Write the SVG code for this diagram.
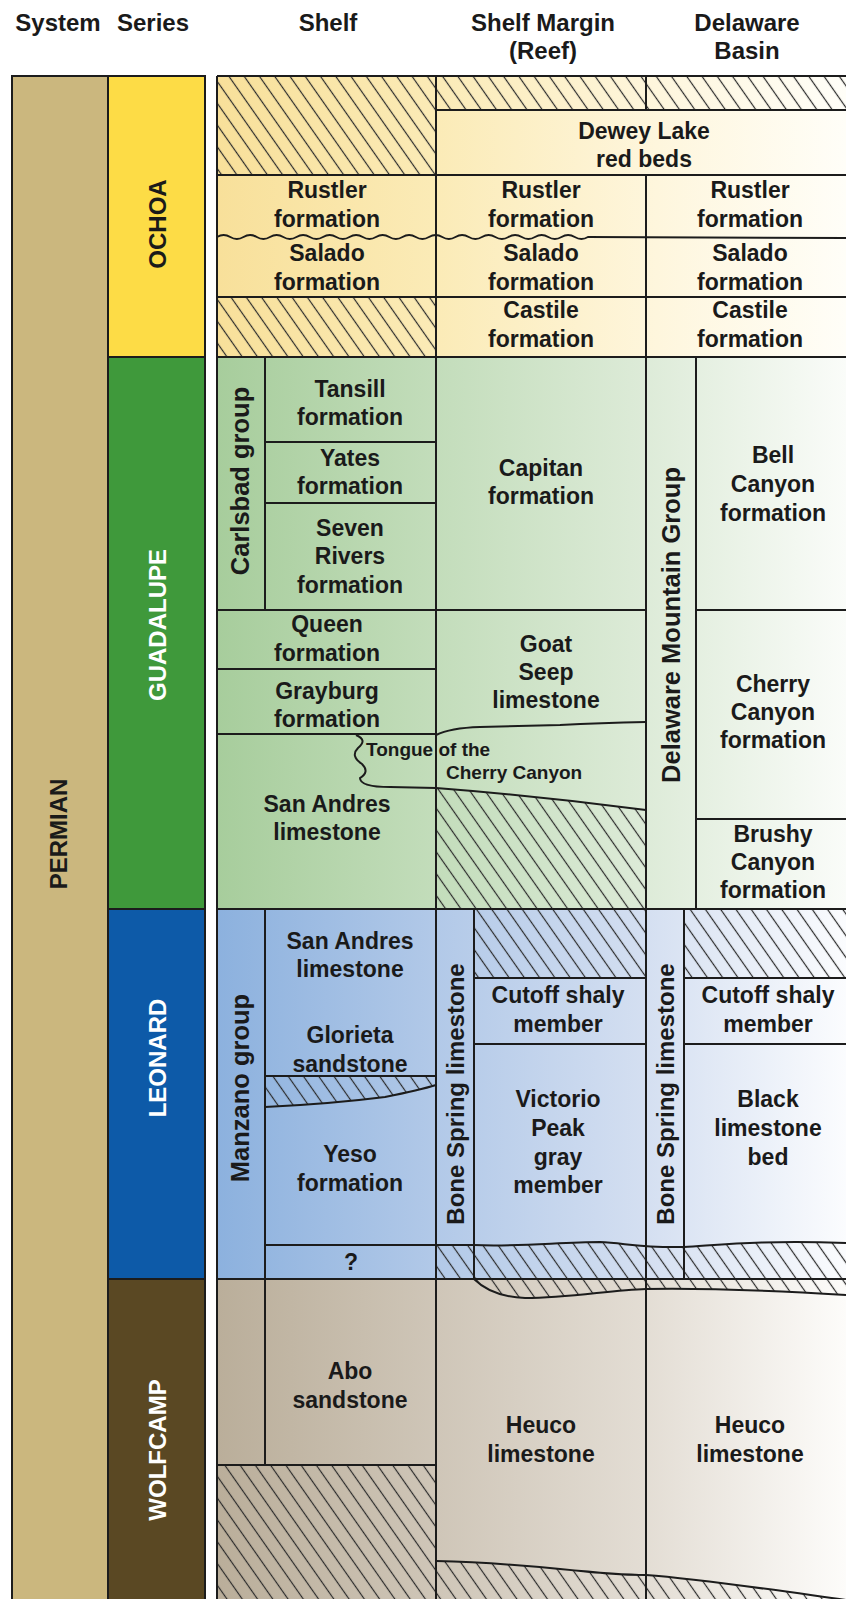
<svg xmlns="http://www.w3.org/2000/svg" width="846" height="1599" viewBox="0 0 846 1599">
<defs>
<style>
.t{font-family:"Liberation Sans",Arial,sans-serif;font-weight:bold;font-size:23px;fill:#1a1a1a;text-anchor:middle}
.h{font-family:"Liberation Sans",Arial,sans-serif;font-weight:bold;font-size:24px;fill:#1a1a1a;text-anchor:middle}
.v{font-family:"Liberation Sans",Arial,sans-serif;font-weight:bold;font-size:24px;fill:#1a1a1a;text-anchor:middle}
.vl{font-size:25.5px}
.w{fill:#ffffff}
.s{font-family:"Liberation Sans",Arial,sans-serif;font-weight:bold;font-size:19px;fill:#1a1a1a}
.ln{fill:none;stroke:#1c1c1c;stroke-width:2}
.hat{fill:url(#hatch);stroke:none}
.box{stroke:#1c1c1c;stroke-width:2}
</style>
<pattern id="hatch" patternUnits="userSpaceOnUse" width="12.5" height="12.5" patternTransform="rotate(-35)">
<line x1="6.25" y1="0" x2="6.25" y2="12.5" stroke="#2a2a2a" stroke-width="1.2"/>
</pattern>
<linearGradient id="gO" gradientUnits="userSpaceOnUse" x1="217" y1="0" x2="846" y2="0">
<stop offset="0" stop-color="#F8E09A"/><stop offset="0.35" stop-color="#FBEBB7"/><stop offset="0.7" stop-color="#FEF6DD"/><stop offset="1" stop-color="#FFFEF8"/>
</linearGradient>
<linearGradient id="gG" gradientUnits="userSpaceOnUse" x1="217" y1="0" x2="846" y2="0">
<stop offset="0" stop-color="#A7CD9C"/><stop offset="0.35" stop-color="#C3DDBB"/><stop offset="0.68" stop-color="#DDEBD8"/><stop offset="1" stop-color="#FAFCF9"/>
</linearGradient>
<linearGradient id="gL" gradientUnits="userSpaceOnUse" x1="217" y1="0" x2="846" y2="0">
<stop offset="0" stop-color="#8CB1DE"/><stop offset="0.35" stop-color="#B2C9E8"/><stop offset="0.68" stop-color="#D4DFF1"/><stop offset="1" stop-color="#FBFCFE"/>
</linearGradient>
<linearGradient id="gW" gradientUnits="userSpaceOnUse" x1="217" y1="0" x2="846" y2="0">
<stop offset="0" stop-color="#BAAE9A"/><stop offset="0.35" stop-color="#CFC6B8"/><stop offset="0.68" stop-color="#E3DDD4"/><stop offset="1" stop-color="#FDFCFA"/>
</linearGradient>
</defs>
<rect x="0" y="0" width="846" height="1599" fill="#ffffff"/>

<g id="header">
<text class="h" x="58" y="31">System</text>
<text class="h" x="153" y="31">Series</text>
<text class="h" x="328" y="31">Shelf</text>
<text class="h" x="543" y="31">Shelf Margin</text>
<text class="h" x="543" y="59">(Reef)</text>
<text class="h" x="747" y="31">Delaware</text>
<text class="h" x="747" y="59">Basin</text>
</g>

<g id="system-permian">
<rect class="box" x="12" y="76" width="96" height="1530" fill="#CBB77E"/>
<text class="v" transform="translate(58,834) rotate(-90)" dy="0.36em">PERMIAN</text>
</g>
<g id="series-ochoa">
<rect class="box" x="108" y="76" width="97" height="281" fill="#FDDC46"/>
<text class="v" transform="translate(157,224) rotate(-90)" dy="0.36em">OCHOA</text>
</g>
<g id="series-guadalupe">
<rect class="box" x="108" y="357" width="97" height="552" fill="#3F993B"/>
<text class="v w" transform="translate(157,625) rotate(-90)" dy="0.36em">GUADALUPE</text>
</g>
<g id="series-leonard">
<rect class="box" x="108" y="909" width="97" height="370" fill="#0D5AA8"/>
<text class="v w" transform="translate(157,1058) rotate(-90)" dy="0.36em">LEONARD</text>
</g>
<g id="series-wolfcamp">
<rect class="box" x="108" y="1279" width="97" height="330" fill="#5A4823"/>
<text class="v w" transform="translate(157,1450) rotate(-90)" dy="0.36em">WOLFCAMP</text>
</g>

<g id="bands">
<rect x="217" y="76" width="629" height="281" fill="url(#gO)"/>
<rect x="217" y="357" width="629" height="552" fill="url(#gG)"/>
<rect x="217" y="909" width="629" height="370" fill="url(#gL)"/>
<rect x="217" y="1279" width="629" height="320" fill="url(#gW)"/>
</g>

<g id="hiatus">
<rect class="hat" x="217" y="76" width="219" height="99"/>
<rect class="hat" x="436" y="76" width="410" height="34"/>
<rect class="hat" x="217" y="297" width="219" height="60"/>
<path class="hat" d="M436,788 Q540,796 646,810 L646,909 L436,909 Z"/>
<path class="hat" d="M265,1076 L436,1076 L436,1085 Q420,1090 385,1097 Q330,1104 265,1107 Z"/>
<rect class="hat" x="474" y="909" width="172" height="69"/>
<rect class="hat" x="684" y="909" width="162" height="69"/>
<path class="hat" d="M436,1245 L474,1245 C520,1247 560,1242 600,1242 C625,1243 640,1248 684,1247 C720,1245 760,1240 846,1243 L846,1279 L436,1279 Z"/>
<path class="hat" d="M474,1279 C485,1290 500,1297 525,1298 C570,1298 610,1290 646,1289 C700,1288 780,1291 846,1295 L846,1279 Z"/>
<rect class="hat" x="217" y="1465" width="219" height="134"/>
<path class="hat" d="M436,1561 C480,1562 520,1565 560,1569 C600,1573 620,1575 646,1575 C700,1579 760,1588 846,1600 L846,1599 L436,1599 Z"/>
</g>

<g id="boundaries">
<path class="ln" d="M217,76 H846 M217,76 V1599 M436,76 V1599 M646,76 V110 M436,110 H846 M217,175 H846 M646,175 V1599"/>
<path class="ln" d="M217,237 q6.625,-4 13.25,0 t13.25,0 t13.25,0 t13.25,0 t13.25,0 t13.25,0 t13.25,0 t13.25,0 t13.25,0 t13.25,0 t13.25,0 t13.25,0 t13.25,0 t13.25,0 t13.25,0 t13.25,0 t13.25,0 t13.25,0 t13.25,0 t13.25,0 t13.25,0 t13.25,0 t13.25,0 t13.25,0 t13.25,0 t13.25,0 t13.25,0 t13.25,0 L846,238"/>
<path class="ln" d="M217,297 H846 M217,357 H846"/>
<path class="ln" d="M265,357 V610 M265,442 H436 M265,503 H436 M217,610 H646 M696,357 V909 M696,610 H846 M217,669 H436 M217,734 H436 M696,819 H846 M217,909 H846"/>
<path class="ln" d="M436,735 Q450,728 480,727 L560,725 Q600,723 646,722"/>
<path class="ln" d="M356,735 Q368,740 358,748 Q350,756 362,764 Q370,772 360,778 Q360,787 390,787 L436,788 Q540,796 646,810"/>
<path class="ln" d="M265,909 V1465 M265,1076 H436 M265,1245 H474 M474,909 V1279 M474,978 H646 M474,1044 H646 M684,909 V1279 M684,978 H846 M684,1044 H846"/>
<path class="ln" d="M265,1107 Q330,1104 385,1097 Q420,1090 436,1085"/>
<path class="ln" d="M474,1245 C520,1247 560,1242 600,1242 C625,1243 640,1248 684,1247 C720,1245 760,1240 846,1243"/>
<path class="ln" d="M217,1279 H846"/>
<path class="ln" d="M474,1279 C485,1290 500,1297 525,1298 C570,1298 610,1290 646,1289 C700,1288 780,1291 846,1295"/>
<path class="ln" d="M217,1465 H436"/>
<path class="ln" d="M436,1561 C480,1562 520,1565 560,1569 C600,1573 620,1575 646,1575 C700,1579 760,1588 846,1600"/>
</g>

<g id="dewey-lake"><text class="t" x="644" y="139">Dewey Lake</text><text class="t" x="644" y="167">red beds</text></g>
<g id="rustler-shelf"><text class="t" x="327" y="198">Rustler</text><text class="t" x="327" y="227">formation</text></g>
<g id="rustler-margin"><text class="t" x="541" y="198">Rustler</text><text class="t" x="541" y="227">formation</text></g>
<g id="rustler-basin"><text class="t" x="750" y="198">Rustler</text><text class="t" x="750" y="227">formation</text></g>
<g id="salado-shelf"><text class="t" x="327" y="261">Salado</text><text class="t" x="327" y="290">formation</text></g>
<g id="salado-margin"><text class="t" x="541" y="261">Salado</text><text class="t" x="541" y="290">formation</text></g>
<g id="salado-basin"><text class="t" x="750" y="261">Salado</text><text class="t" x="750" y="290">formation</text></g>
<g id="castile-margin"><text class="t" x="541" y="318">Castile</text><text class="t" x="541" y="347">formation</text></g>
<g id="castile-basin"><text class="t" x="750" y="318">Castile</text><text class="t" x="750" y="347">formation</text></g>

<g id="carlsbad-group"><text class="v vl" transform="translate(240,481) rotate(-90)" dy="0.36em">Carlsbad group</text></g>
<g id="tansill"><text class="t" x="350" y="397">Tansill</text><text class="t" x="350" y="425">formation</text></g>
<g id="yates"><text class="t" x="350" y="466">Yates</text><text class="t" x="350" y="494">formation</text></g>
<g id="seven-rivers"><text class="t" x="350" y="536">Seven</text><text class="t" x="350" y="564">Rivers</text><text class="t" x="350" y="593">formation</text></g>
<g id="capitan"><text class="t" x="541" y="476">Capitan</text><text class="t" x="541" y="504">formation</text></g>
<g id="delaware-mountain-group"><text class="v vl" transform="translate(671,625) rotate(-90)" dy="0.36em">Delaware Mountain Group</text></g>
<g id="bell-canyon"><text class="t" x="773" y="463">Bell</text><text class="t" x="773" y="492">Canyon</text><text class="t" x="773" y="521">formation</text></g>
<g id="queen"><text class="t" x="327" y="632">Queen</text><text class="t" x="327" y="661">formation</text></g>
<g id="grayburg"><text class="t" x="327" y="699">Grayburg</text><text class="t" x="327" y="727">formation</text></g>
<g id="goat-seep"><text class="t" x="546" y="652">Goat</text><text class="t" x="546" y="680">Seep</text><text class="t" x="546" y="708">limestone</text></g>
<g id="cherry-canyon"><text class="t" x="773" y="692">Cherry</text><text class="t" x="773" y="720">Canyon</text><text class="t" x="773" y="748">formation</text></g>
<g id="tongue"><text class="s" x="366" y="756">Tongue of the</text><text class="s" x="446" y="779">Cherry Canyon</text></g>
<g id="san-andres-guadalupe"><text class="t" x="327" y="812">San Andres</text><text class="t" x="327" y="840">limestone</text></g>
<g id="brushy-canyon"><text class="t" x="773" y="842">Brushy</text><text class="t" x="773" y="870">Canyon</text><text class="t" x="773" y="898">formation</text></g>

<g id="manzano-group"><text class="v vl" transform="translate(240,1088) rotate(-90)" dy="0.36em">Manzano group</text></g>
<g id="san-andres-leonard"><text class="t" x="350" y="949">San Andres</text><text class="t" x="350" y="977">limestone</text></g>
<g id="glorieta"><text class="t" x="350" y="1043">Glorieta</text><text class="t" x="350" y="1072">sandstone</text></g>
<g id="yeso"><text class="t" x="350" y="1162">Yeso</text><text class="t" x="350" y="1191">formation</text></g>
<g id="unknown"><text class="t" x="351" y="1270">?</text></g>
<g id="bone-spring-margin"><text class="v" transform="translate(455,1094) rotate(-90)" dy="0.36em">Bone Spring limestone</text></g>
<g id="bone-spring-basin"><text class="v" transform="translate(665,1094) rotate(-90)" dy="0.36em">Bone Spring limestone</text></g>
<g id="cutoff-margin"><text class="t" x="558" y="1003">Cutoff shaly</text><text class="t" x="558" y="1032">member</text></g>
<g id="cutoff-basin"><text class="t" x="768" y="1003">Cutoff shaly</text><text class="t" x="768" y="1032">member</text></g>
<g id="victorio-peak"><text class="t" x="558" y="1107">Victorio</text><text class="t" x="558" y="1136">Peak</text><text class="t" x="558" y="1165">gray</text><text class="t" x="558" y="1193">member</text></g>
<g id="black-limestone"><text class="t" x="768" y="1107">Black</text><text class="t" x="768" y="1136">limestone</text><text class="t" x="768" y="1165">bed</text></g>

<g id="abo"><text class="t" x="350" y="1379">Abo</text><text class="t" x="350" y="1408">sandstone</text></g>
<g id="heuco-margin"><text class="t" x="541" y="1433">Heuco</text><text class="t" x="541" y="1462">limestone</text></g>
<g id="heuco-basin"><text class="t" x="750" y="1433">Heuco</text><text class="t" x="750" y="1462">limestone</text></g>
</svg>
